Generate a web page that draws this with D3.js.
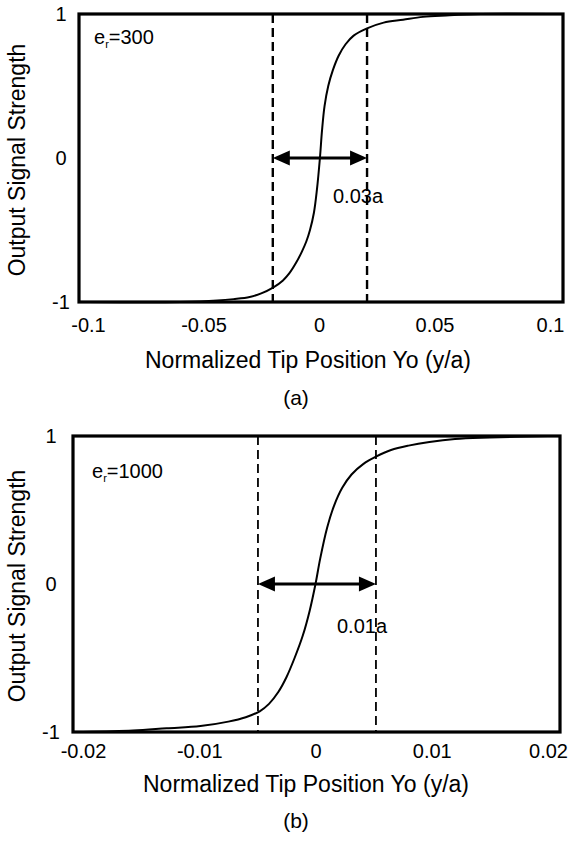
<!DOCTYPE html>
<html><head><meta charset="utf-8">
<script src="https://cdn.jsdelivr.net/npm/d3@7"></script>
<style>
body{margin:0;background:#fff}
svg{display:block}
text{font-family:"Liberation Sans",Arial,Helvetica,sans-serif;fill:#000}
</style>
</head><body>
<svg id="c" width="572" height="842"></svg>
<script>
// ---------- data ----------
const xTitle = "Normalized Tip Position Yo (y/a)";
const yTitle = "Output Signal Strength";
const yTicks = [-1, 0, 1];
const yTickLabels = ["-1", "0", "1"];

// panel (a)
const xTicksA = [-0.1, -0.05, 0, 0.05, 0.1];
const xTickLabelsA = ["-0.1", "-0.05", "0", "0.05", "0.1"];
const xDomainA = [-0.1, 0.1];
const curveXA = [-0.1, -0.06, -0.044, -0.037, -0.030, -0.025, -0.0199, -0.0156, -0.0128, -0.0100, -0.0074, -0.0055, -0.0039, -0.0022, -0.0009, 0.0004, 0.0013, 0.0024, 0.0040, 0.0060, 0.0085, 0.0115, 0.015, 0.0208, 0.028, 0.0364, 0.045, 0.055, 0.07, 0.1];
const curveYA = [-1, -1, -0.99, -0.98, -0.965, -0.94, -0.90, -0.85, -0.80, -0.73, -0.65, -0.58, -0.50, -0.38, -0.22, 0, 0.19, 0.36, 0.50, 0.61, 0.71, 0.79, 0.85, 0.90, 0.94, 0.96, 0.98, 0.99, 1, 1];
const dashXA = [-0.02, 0.0208];
const widthLabelA = "0.03a";
const erA = "300";
const captionA = "(a)";

// panel (b)
const xTicksB = [-0.02, -0.01, 0, 0.01, 0.02];
const xTickLabelsB = ["-0.02", "-0.01", "0", "0.01", "0.02"];
const xDomainB = [-0.02, 0.02];
const curveXB = [-0.02, -0.0157, -0.0128, -0.0099, -0.0075, -0.0060, -0.0048, -0.0040, -0.0032, -0.0025, -0.0018, -0.0011, -0.0005, 0, 0.0004, 0.0010, 0.0016, 0.0023, 0.0031, 0.0041, 0.0052, 0.0065, 0.0080, 0.0098, 0.0120, 0.0150, 0.02];
const curveYB = [-1, -0.99, -0.975, -0.96, -0.93, -0.90, -0.86, -0.81, -0.73, -0.63, -0.50, -0.35, -0.18, 0, 0.17, 0.38, 0.53, 0.65, 0.74, 0.81, 0.86, 0.905, 0.935, 0.96, 0.98, 0.99, 1];
const dashXB = [-0.00495, 0.0052];
const widthLabelB = "0.01a";
const erB = "1000";
const captionB = "(b)";

// ---------- layout ----------
const panels = [
  {frame:[79,14,563,302], xr:[88,550], xDomain:xDomainA, ticks:xTicksA, tickLabels:xTickLabelsA,
   cx:curveXA, cy:curveYA, dash:dashXA, wl:widthLabelA, er:erA, cap:captionA,
   tickPad:16, yLabX:61, titleY:368, titleX:308, capY:405, erPos:[94,44], wlPos:[333,203], dashW:2.4, yTitleX:17},
  {frame:[73,436,560,732], xr:[83,548], xDomain:xDomainB, ticks:xTicksB, tickLabels:xTickLabelsB,
   cx:curveXB, cy:curveYB, dash:dashXB, wl:widthLabelB, er:erB, cap:captionB,
   tickPad:12, yLabX:51, titleY:792, titleX:306, capY:828, erPos:[92,478], wlPos:[337,633], dashW:1.8, yTitleX:17}
];

const svg = d3.select("#c");

panels.forEach(p => {
  const [l,t,r,b] = p.frame;
  const x = d3.scaleLinear().domain(p.xDomain).range(p.xr);
  const y = d3.scaleLinear().domain([-1,1]).range([b,t]);
  const g = svg.append("g");

  // x axis labels
  const xa = g.append("g").attr("transform",`translate(0,${b})`)
    .call(d3.axisBottom(x).tickValues(p.ticks).tickSize(0).tickPadding(p.tickPad)
      .tickFormat((d,i)=>p.tickLabels[i]));
  xa.select(".domain").remove();
  xa.selectAll("text").attr("font-size",20).style("font-family","'Liberation Sans',Arial,sans-serif").attr("fill","#000");

  // y axis labels
  const ya = g.append("g").attr("transform",`translate(${l},0)`)
    .call(d3.axisLeft(y).tickValues(yTicks).tickSize(0)
      .tickFormat((d,i)=>yTickLabels[i]));
  ya.select(".domain").remove();
  ya.selectAll(".tick line").remove();
  ya.selectAll("text").attr("font-size",20).attr("text-anchor","middle")
    .attr("x", p.yLabX - l).style("font-family","'Liberation Sans',Arial,sans-serif").attr("fill","#000");

  // width label
  g.append("text").attr("x",p.wlPos[0]).attr("y",p.wlPos[1]).attr("font-size",20).text(p.wl);

  // dashed lines
  g.selectAll(".dash").data(p.dash).enter().append("line")
    .attr("x1",d=>x(d)).attr("x2",d=>x(d)).attr("y1",t).attr("y2",b)
    .attr("stroke","#000").attr("stroke-width",p.dashW).attr("stroke-dasharray","9,5");

  // curve
  const pts = p.cx.map((v,i)=>[v,p.cy[i]]);
  g.append("path").datum(pts)
    .attr("d", d3.line().x(d=>x(d[0])).y(d=>y(d[1])).curve(d3.curveCatmullRom.alpha(0.5)))
    .attr("fill","none").attr("stroke","#000").attr("stroke-width",2);

  // double arrow
  const ax1 = x(p.dash[0]), ax2 = x(p.dash[1]), ay = y(0);
  const hl = 17, hh = 7.5;
  g.append("line").attr("x1",ax1+hl-2).attr("x2",ax2-hl+2).attr("y1",ay).attr("y2",ay)
    .attr("stroke","#000").attr("stroke-width",3.2);
  g.append("path").attr("d",`M${ax1},${ay}L${ax1+hl},${ay-hh}L${ax1+hl},${ay+hh}Z`).attr("fill","#000");
  g.append("path").attr("d",`M${ax2},${ay}L${ax2-hl},${ay-hh}L${ax2-hl},${ay+hh}Z`).attr("fill","#000");

  // frame
  g.append("rect").attr("x",l).attr("y",t).attr("width",r-l).attr("height",b-t)
    .attr("fill","none").attr("stroke","#000").attr("stroke-width",3.2);

  // e_r label
  const et = g.append("text").attr("x",p.erPos[0]).attr("y",p.erPos[1]).attr("font-size",20);
  et.append("tspan").text("e");
  et.append("tspan").attr("font-size",11).attr("dy",4).text("r");
  et.append("tspan").attr("dy",-4).text("=" + p.er);

  // titles
  g.append("text").attr("x",p.titleX).attr("y",p.titleY).attr("text-anchor","middle")
    .attr("font-size",23).text(xTitle);
  g.append("text").attr("transform",`translate(${p.yTitleX + 8},${(t+b)/2+2}) rotate(-90)`)
    .attr("text-anchor","middle").attr("font-size",23).text(yTitle);
  g.append("text").attr("x",296).attr("y",p.capY).attr("text-anchor","middle")
    .attr("font-size",21).text(p.cap);
});
</script>
</body></html>
